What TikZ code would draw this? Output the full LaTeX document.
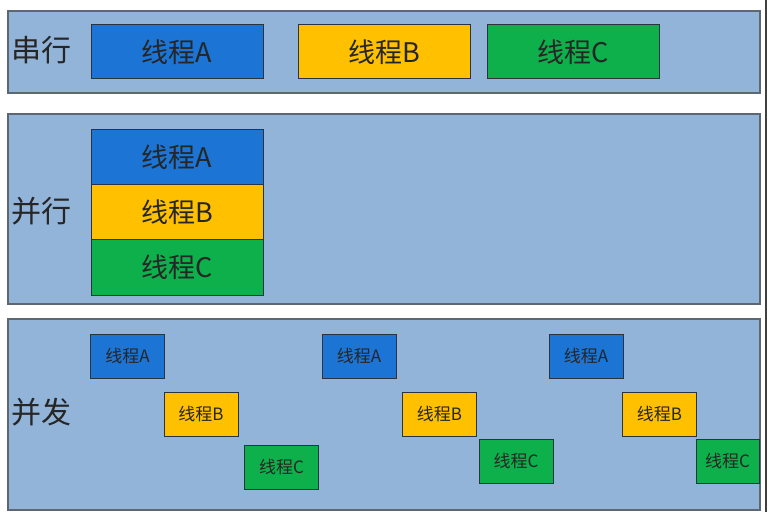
\documentclass[tikz,border=0pt]{standalone}
\usepackage{fontspec}
\newfontfamily\cjk{Noto Sans CJK SC}
\definecolor{panelblue}{HTML}{92B4D9}
\definecolor{panelline}{HTML}{5E6670}
\definecolor{threadA}{HTML}{1C74D4}
\definecolor{threadB}{HTML}{FFC000}
\definecolor{threadC}{HTML}{0DB04B}
\definecolor{boxline}{HTML}{2A3440}
\tikzset{
	panel/.style={draw=panelline, line width=1.2pt, fill=panelblue},
	kind/.style={font=\cjk\fontsize{30}{32}\selectfont, text=black!85, inner sep=0pt},
	bigthread/.style={draw=boxline, line width=1pt, minimum width=172pt, minimum height=54pt, inner sep=0pt, font=\cjk\fontsize{27}{29}\selectfont, text=black!85},
	smallthread/.style={draw=boxline, line width=1pt, minimum width=74pt, minimum height=44pt, inner sep=0pt, font=\cjk\fontsize{17}{19}\selectfont, text=black!85}
}

\begin{document}
\begin{tikzpicture}[x=1pt, y=-1pt]
			%%%%% START %%%%%
			\useasboundingbox[fill=white] (0, 0) rectangle (769, 519);
			
			\draw[panel] (8, 11) rectangle (760, 93);
			\draw[panel] (8, 114) rectangle (760, 304);
			\draw[panel] (8, 319) rectangle (760, 510);
			
			\draw[line width=1.5pt, color=black!75] (766, 0) -- (766, 512);
			
			\node[kind] (serial) at (42, 50) {串行};
			\node[kind] (parallel) at (42, 211) {并行};
			\node[kind] (concurrent) at (42, 412) {并发};
			
			\node[bigthread, fill=threadA] (sA) at (177, 52) {线程A};
			\node[bigthread, fill=threadB] (sB) at (384, 52) {线程B};
			\node[bigthread, fill=threadC] (sC) at (573, 52) {线程C};
			
			\node[bigthread, fill=threadA, minimum height=55.5pt] (pA) at (177, 157) {线程A};
			\node[bigthread, fill=threadB, minimum height=55.5pt] (pB) at (177, 212) {线程B};
			\node[bigthread, fill=threadC, minimum height=55.5pt] (pC) at (177, 267.5) {线程C};
			
			\node[smallthread, fill=threadA] (cA1) at (127.5, 356) {线程A};
			\node[smallthread, fill=threadB] (cB1) at (201, 414.5) {线程B};
			\node[smallthread, fill=threadC] (cC1) at (281.5, 467) {线程C};
			
			\node[smallthread, fill=threadA] (cA2) at (359, 356) {线程A};
			\node[smallthread, fill=threadB] (cB2) at (439.5, 414.5) {线程B};
			\node[smallthread, fill=threadC] (cC2) at (516, 461.5) {线程C};
			
			\node[smallthread, fill=threadA] (cA3) at (586, 356) {线程A};
			\node[smallthread, fill=threadB] (cB3) at (659.5, 414.5) {线程B};
			\node[smallthread, fill=threadC, minimum width=63pt] (cC3) at (727.5, 461.5) {线程C};
			
			%%%%% END %%%%%
		\end{tikzpicture}
\end{document}
